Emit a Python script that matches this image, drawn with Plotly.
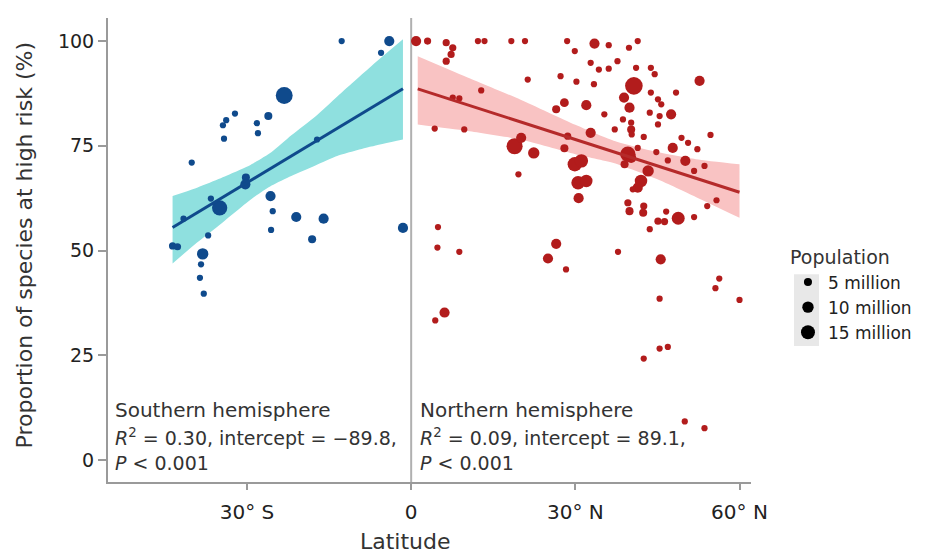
import plotly.graph_objects as go
import numpy as np

# ---------------- data ----------------
south_lat = [-12.7, -4.0, -5.5, -23.2, -32.2, -33.8, -34.4, -34.2, -26.1, -28.2, -28.0, -40.1,
             -17.2, -30.2, -30.3, -36.6, -35.0, -41.6, -25.7, -25.3, -25.6, -21.0, -16.0, -18.1,
             -1.5, -37.1, -43.6, -42.7, -38.1, -38.4, -38.6, -37.9]
south_val = [100.0, 100.0, 97.2, 87.0, 82.7, 81.1, 79.9, 76.7, 82.1, 80.4, 78.0, 71.0,
             76.5, 67.4, 65.8, 62.4, 60.2, 57.6, 63.0, 59.4, 54.9, 58.0, 57.6, 52.7,
             55.4, 53.6, 51.1, 50.9, 49.2, 46.7, 43.5, 39.7]
south_pop = [3, 8, 3, 22, 3, 3, 3, 3, 5, 3, 3, 3,
             3, 5, 8, 3, 18, 3, 8, 3, 3, 8, 8, 5,
             8, 3, 4, 4, 10, 3, 3, 3]

north_lat = [0.9, 3.0, 6.4, 7.6, 7.3, 6.4, 12.2, 13.4, 18.3, 20.8, 28.5, 29.9, 33.5, 36.1, 39.8, 41.4,
             32.8, 34.3, 36.1, 37.7, 41.1, 43.8, 44.5, 21.3, 27.3, 30.2, 33.4, 40.7, 38.9, 43.8,
             45.1, 45.7, 48.4, 52.7, 12.8, 7.6, 8.8, 4.3, 9.7, 26.5, 28.0, 32.0, 35.3, 38.7, 40.2,
             40.2, 39.9, 37.2, 40.3, 43.6, 45.4, 45.1, 47.5, 32.8, 28.6, 42.5, 49.4, 50.6, 54.7,
             18.9, 20.1, 22.4, 28.0, 29.9, 31.1, 30.5, 32.0, 30.6, 19.6, 39.6, 41.4, 39.0, 40.2,
             44.8, 46.9, 47.8, 50.1, 52.3, 51.7, 53.6, 43.3, 42.0, 41.4, 40.5, 54.1, 55.8, 39.6,
             39.9, 42.5, 42.4, 46.6, 45.1, 46.3, 48.8, 51.7, 43.6, 4.9, 4.8, 8.8, 26.5, 25.0,
             28.3, 37.8, 45.6, 56.3, 55.6, 45.4, 60.0, 4.4, 6.1, 42.5, 45.4, 46.9, 50.0, 53.6]
north_val = [100.0, 100.0, 99.6, 98.4, 96.8, 95.2, 100.0, 100.0, 100.0, 100.0, 100.0, 97.6, 99.4, 99.0, 98.4, 100.0,
             94.8, 93.2, 93.4, 95.2, 93.6, 93.6, 92.1, 90.8, 91.6, 90.3, 89.7, 89.3, 86.5, 87.7,
             86.1, 84.9, 87.7, 90.5, 88.2, 86.5, 86.3, 79.1, 78.9, 83.7, 85.3, 84.7, 82.5, 81.3, 80.5,
             78.9, 84.1, 78.9, 77.7, 82.9, 82.1, 80.1, 82.5, 78.1, 77.3, 77.1, 76.9, 75.7, 77.6,
             74.9, 76.9, 73.3, 74.4, 70.6, 71.4, 66.2, 66.6, 62.5, 68.2, 73.0, 74.5, 70.6, 72.1,
             73.5, 71.5, 74.5, 71.4, 74.2, 69.0, 70.2, 69.0, 66.6, 65.0, 64.6, 60.6, 62.0, 61.4,
             59.4, 60.6, 59.0, 59.3, 57.0, 56.9, 57.7, 58.0, 55.1, 55.6, 50.7, 49.7, 51.6, 48.1,
             45.5, 49.7, 47.9, 43.3, 41.0, 38.5, 38.2, 33.3, 35.2, 24.2, 26.6, 27.0, 9.2, 7.6]
north_pop = [8, 4, 4, 4, 4, 4, 3, 3, 3, 3, 3, 3, 8, 3, 3, 3,
             3, 3, 3, 3, 3, 3, 3, 3, 3, 3, 3, 24, 8, 3,
             3, 3, 3, 8, 3, 3, 3, 3, 3, 5, 6, 8, 3, 3, 3,
             5, 8, 3, 3, 3, 3, 3, 8, 8, 4, 3, 3, 3, 3,
             20, 8, 10, 5, 16, 14, 14, 12, 8, 3, 18, 3, 5, 8,
             3, 3, 8, 8, 3, 3, 3, 10, 12, 8, 3, 3, 3, 4,
             5, 4, 5, 3, 4, 4, 13, 3, 3, 3, 3, 3, 8, 8,
             3, 3, 8, 3, 3, 3, 3, 3, 8, 3, 3, 3, 3, 3]

# regression fits
south_intercept, south_slope = 89.8, 0.787
north_intercept, north_slope = 89.1, -0.42

# confidence bands
south_band_lat = [-43.6, -39.5, -35.3, -29.3, -25.5, -21.9, -17.5, -13.4, -7.3, -1.5]
south_band_hi = [63.0, 64.8, 67.0, 70.5, 73.5, 77.5, 82.0, 86.9, 94.0, 100.4]
south_band_lo = [46.9, 51.5, 55.8, 62.2, 65.5, 67.8, 70.3, 72.6, 74.8, 76.5]
north_band_lat = [1.2, 10, 20, 30, 37, 45, 52, 60]
north_band_hi = [96.4, 91.5, 86.0, 80.0, 76.2, 73.5, 71.8, 70.6]
north_band_lo = [80.1, 78.6, 76.5, 73.0, 70.9, 67.0, 62.8, 57.8]

x_tickvals = [-30, 0, 30, 60]
x_ticktext = ["30° S", "0", "30° N", "60° N"]
y_tickvals = [0, 25, 50, 75, 100]
legend_pops = [5, 10, 15]
legend_labels = ["5 million", "10 million", "15 million"]

# ---------------- styling ----------------
FONT = "DejaVu Sans"
BLUE = "#0f4a8c"
CYAN = "#8fe0df"
RED = "#b21c1c"
PINK = "#f9c3c3"
K = 3.6  # px per sqrt(million)


def msize(p):
    return [K * np.sqrt(v) for v in p]


fig = go.Figure()

# bands (lower edge, then upper edge filled to it)
for lat, lo, hi, col in [(south_band_lat, south_band_lo, south_band_hi, CYAN),
                         (north_band_lat, north_band_lo, north_band_hi, PINK)]:
    fig.add_trace(go.Scatter(x=lat, y=lo, mode="lines", line=dict(width=0, shape="spline", smoothing=0.6),
                             hoverinfo="skip", showlegend=False))
    fig.add_trace(go.Scatter(x=lat, y=hi, mode="lines", fill="tonexty", fillcolor=col,
                             line=dict(width=0, shape="spline", smoothing=0.6),
                             hoverinfo="skip", showlegend=False))

# points
fig.add_trace(go.Scatter(x=south_lat, y=south_val, mode="markers",
                         marker=dict(size=msize(south_pop), sizemode="diameter", color=BLUE,
                                     opacity=1, line=dict(width=0)),
                         showlegend=False))
fig.add_trace(go.Scatter(x=north_lat, y=north_val, mode="markers",
                         marker=dict(size=msize(north_pop), sizemode="diameter", color=RED,
                                     opacity=1, line=dict(width=0)),
                         showlegend=False))

# regression lines
sx = np.array([min(south_lat), max(south_lat)])
nx = np.array([1.2, max(north_lat)])
fig.add_trace(go.Scatter(x=sx, y=south_intercept + south_slope * sx, mode="lines",
                         line=dict(color=BLUE, width=3), showlegend=False))
fig.add_trace(go.Scatter(x=nx, y=north_intercept + north_slope * nx, mode="lines",
                         line=dict(color="#b52a2a", width=3), showlegend=False))

# legend entries
for p, lab in zip(legend_pops, legend_labels):
    fig.add_trace(go.Scatter(x=[None], y=[None], mode="markers", name=lab,
                             marker=dict(size=K * np.sqrt(p), color="black", opacity=1)))

# zero latitude line
fig.add_shape(type="line", x0=0, x1=0, y0=0, y1=1, xref="x", yref="paper",
              line=dict(color="#b0b0b0", width=2), layer="below")
# legend key background
fig.add_shape(type="rect", xref="paper", yref="paper", x0=1.0669, x1=1.1058, y0=0.293, y1=0.448,
              fillcolor="#e8e8e8", line=dict(width=0), layer="below")

texts_s = ["Southern hemisphere", "<i>R</i><sup>2</sup> = 0.30, intercept = −89.8,", "<i>P</i> < 0.001"]
texts_n = ["Northern hemisphere", "<i>R</i><sup>2</sup> = 0.09, intercept = 89.1,", "<i>P</i> < 0.001"]
ys = [11.9, 5.5, -0.7]
sizes = [20, 19, 19]
for t, yy, fs in zip(texts_s, ys, sizes):
    fig.add_annotation(x=-54.5, y=yy, text=t, showarrow=False, xanchor="left", yanchor="middle",
                       font=dict(family=FONT, size=fs, color="#333333"))
for t, yy, fs in zip(texts_n, ys, sizes):
    fig.add_annotation(x=1.3, y=yy, text=t, showarrow=False, xanchor="left", yanchor="middle",
                       font=dict(family=FONT, size=fs, color="#333333"))

fig.add_annotation(x=-0.1306, y=0.51, xref="paper", yref="paper", text="Proportion of species at high risk (%)",
                   textangle=-90, showarrow=False, xanchor="center", yanchor="middle",
                   font=dict(family=FONT, size=22, color="#333333"))
fig.add_annotation(x=0.463, y=-0.129, xref="paper", yref="paper", text="Latitude",
                   showarrow=False, xanchor="center", yanchor="middle",
                   font=dict(family=FONT, size=22, color="#333333"))

fig.update_layout(
    width=925, height=554,
    margin=dict(l=100, r=182, t=10, b=80),
    paper_bgcolor="white", plot_bgcolor="white",
    font=dict(family=FONT, color="#222222"),
    legend=dict(title=dict(text="Population", font=dict(size=19, family=FONT, color="#333333")),
                x=1.0575, xanchor="left", y=0.522, yanchor="top", traceorder="normal",
                font=dict(size=17, family=FONT, color="#222222"),
                bgcolor="rgba(0,0,0,0)", itemsizing="trace"),
    showlegend=True,
)
fig.update_xaxes(range=[-55.4, 62.1], tickvals=x_tickvals, ticktext=x_ticktext,
                 showgrid=False, zeroline=False, showline=True, linecolor="#9a9a9a", linewidth=2,
                 ticks="outside", ticklen=6, tickcolor="#9a9a9a", tickwidth=1.5, ticklabelstandoff=5,
                 tickfont=dict(size=20, family=FONT, color="#222222"))
fig.update_yaxes(range=[-5.25, 105.5], tickvals=y_tickvals,
                 showgrid=False, zeroline=False, showline=True, linecolor="#9a9a9a", linewidth=2,
                 ticks="outside", ticklen=8, tickcolor="#9a9a9a", tickwidth=1.5,
                 tickfont=dict(size=19, family=FONT, color="#222222"))

fig.write_html("out.html")
